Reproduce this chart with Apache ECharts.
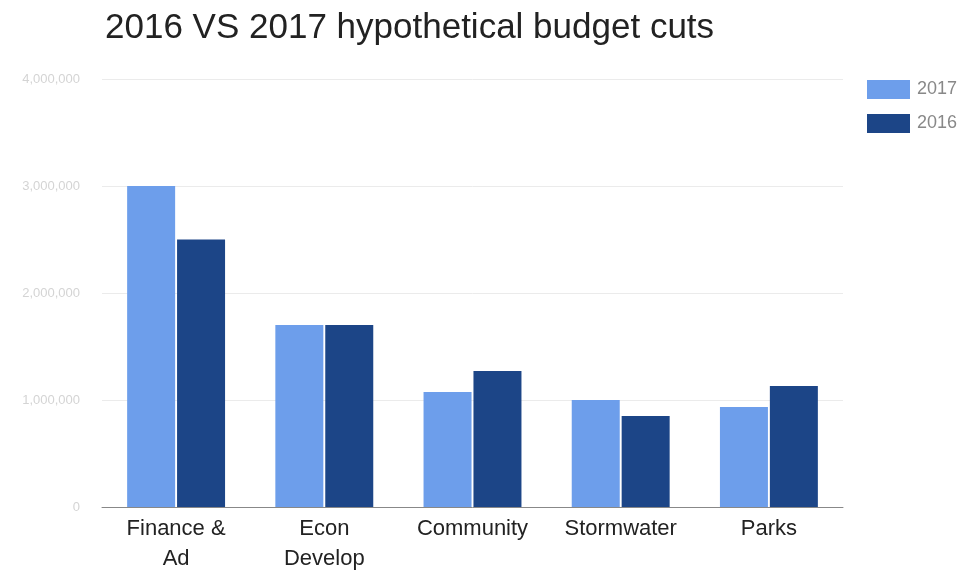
<!DOCTYPE html>
<html>
<head>
<meta charset="utf-8">
<style>
  html, body { margin: 0; padding: 0; background: #fff; }
  #chart { width: 976px; height: 575px; }
</style>
<script src="https://cdn.jsdelivr.net/npm/echarts@6/dist/echarts.min.js"></script>
</head>
<body>
<div id="chart"></div>
<script>
// Budget cut estimates by department
const categories = ['Finance &\nAd', 'Econ\nDevelop', 'Community', 'Stormwater', 'Parks'];
const cuts2017 = [3000000, 1700000, 1075000, 1000000, 935000];
const cuts2016 = [2500000, 1700000, 1270000, 850000, 1130000];
const yTicks = [0, 1000000, 2000000, 3000000, 4000000];

const chart = echarts.init(document.getElementById('chart'));

chart.setOption({
  animation: false,
  backgroundColor: '#ffffff',
  textStyle: { fontFamily: 'Liberation Sans, Arial, sans-serif' },
  title: {
    text: '2016 VS 2017 hypothetical budget cuts',
    left: 100,
    top: 6,
    textStyle: { fontSize: 35, fontWeight: 'normal', color: '#222222' }
  },
  legend: {
    orient: 'vertical',
    left: 862,
    top: 75,
    itemWidth: 43,
    itemHeight: 19,
    itemGap: 15,
    icon: 'rect',
    textStyle: { fontSize: 18, color: '#888888', padding: [0, 0, 0, 2] },
    data: ['2017', '2016']
  },
  grid: { left: 102, right: 133, top: 79, bottom: 68, outerBoundsMode: 'none' },
  xAxis: {
    type: 'category',
    data: categories,
    axisLine: { lineStyle: { color: '#888888', width: 1 } },
    axisTick: { show: false },
    axisLabel: {
      fontSize: 22,
      color: '#222222',
      lineHeight: 30,
      margin: 7
    }
  },
  yAxis: {
    type: 'value',
    min: yTicks[0],
    max: yTicks[yTicks.length - 1],
    interval: yTicks[1] - yTicks[0],
    axisLine: { show: false },
    axisTick: { show: false },
    splitLine: { lineStyle: { color: '#ebebeb', width: 1 } },
    axisLabel: {
      fontSize: 13,
      color: '#d4d4d4',
      margin: 22,
      formatter: v => v.toLocaleString('en-US')
    }
  },
  series: [
    {
      name: '2017',
      type: 'bar',
      data: cuts2017,
      barWidth: 48,
      barGap: '4%',
      itemStyle: { color: '#6d9eeb' }
    },
    {
      name: '2016',
      type: 'bar',
      data: cuts2016,
      barWidth: 48,
      itemStyle: { color: '#1c4587' }
    }
  ]
});
</script>
</body>
</html>
